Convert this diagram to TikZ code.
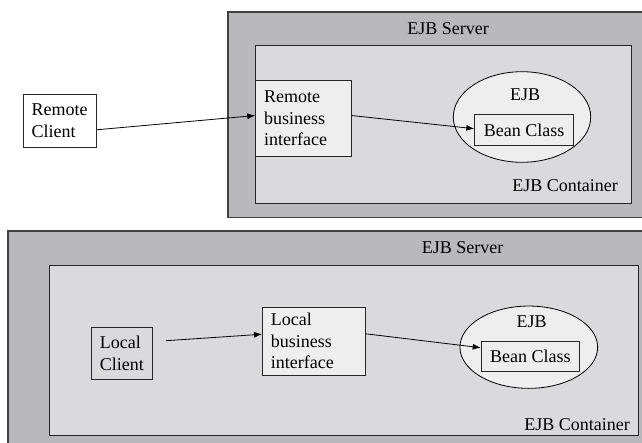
\documentclass[tikz,border=0pt]{standalone}
\usepackage{fontspec}
\setmainfont{Liberation Serif}
\usetikzlibrary{shapes.geometric,arrows.meta}

\definecolor{servergray}{RGB}{185,185,187}
\definecolor{contgray}{RGB}{218,218,220}
\definecolor{boxgray}{RGB}{238,238,238}

\tikzset{
  server/.style={draw=black!75, line width=1.2pt, fill=servergray},
  container/.style={draw=black!85, line width=1pt, fill=contgray},
  box/.style={draw=black!85, line width=0.8pt, rectangle, inner xsep=8.5pt, inner ysep=0pt,
    align=left, anchor=north west},
  bean/.style={draw=black!85, line width=0.8pt, rectangle, fill=boxgray, inner sep=0pt, anchor=north west},
  ejb/.style={draw=black, line width=0.8pt, ellipse, fill=boxgray, inner sep=0pt},
  call/.style={-{Latex[length=8pt,width=6pt]}, line width=0.8pt}
}

\begin{document}
\begin{tikzpicture}[x=1pt, y={(0pt,-1pt)}]
				\fontsize{18}{21.5}\selectfont
				\clip (0,0) rectangle (642,443);
				\fill[white] (0,0) rectangle (642,443);
				
				% Remote access
				\filldraw[server] (228,12) rectangle (660,217.3);
				\filldraw[container] (255.3,46) rectangle (631.7,203.3);
				\node (srv1) at (448,29) {EJB Server};
				\node (cont1) at (565,186) {EJB Container};
				
				\node[box, fill=white, text width=56.6pt, minimum width=73.6pt, minimum height=52.7pt] (rclient) at (22.7,94) {Remote\\Client};
				\node[box, fill=boxgray, text width=78.7pt, minimum width=95.7pt, minimum height=75.7pt] (rbi) at (255.3,80.3) {Remote\\business\\interface};
				\node[ejb, minimum width=137.4pt, minimum height=90.6pt] (ejb1) at (522,117) {};
				\node (ejblbl1) at (525,95) {EJB};
				\node[bean, minimum width=99pt, minimum height=31pt] (bean1) at (474.3,114.3) {Bean Class};
				
				\draw[call] ([yshift=-9pt]rclient.east) -- ([yshift=3pt]rbi.west);
				\draw[call] ([yshift=3pt]rbi.east) -- ([yshift=1.5pt]bean1.west);
				
				% Local access
				\filldraw[server] (8,231) rectangle (660,460);
				\filldraw[container] (49.3,265.7) rectangle (638.7,435.7);
				\node (srv2) at (462.5,247.7) {EJB Server};
				\node (cont2) at (577,425) {EJB Container};
				
				\node[box, fill=contgray, text width=44.3pt, minimum width=61.3pt, minimum height=52pt] (lclient) at (91,327) {Local\\Client};
				\node[box, fill=boxgray, text width=85.5pt, minimum width=102.5pt, minimum height=68.3pt] (lbi) at (262,306.7) {Local\\business\\interface};
				\node[ejb, minimum width=137.7pt, minimum height=82.3pt] (ejb2) at (528.8,347.2) {};
				\node (ejblbl2) at (531.7,321.7) {EJB};
				\node[bean, minimum width=98.6pt, minimum height=30pt] (bean2) at (480.7,340.7) {Bean Class};
				
				\coordinate (lstart) at (166,340.7);
				\draw[call] (lstart) -- ([yshift=7pt]lbi.west);
				\draw[call] ([yshift=7.5pt]lbi.east) -- ([yshift=8.4pt]bean2.west);
			\end{tikzpicture}
\end{document}
